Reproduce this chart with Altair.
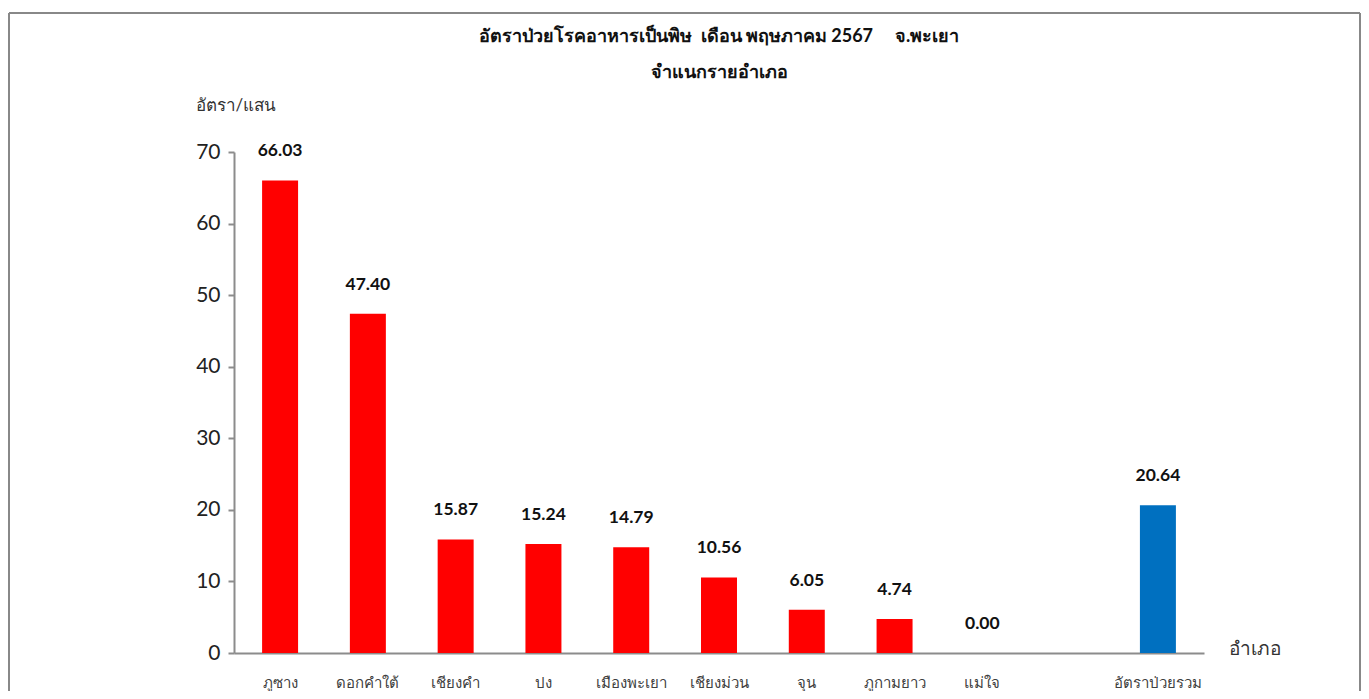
import altair as alt
import pandas as pd

districts = ["ภูซาง", "ดอกคำใต้", "เชียงคำ", "ปง", "เมืองพะเยา", "เชียงม่วน",
             "จุน", "ภูกามยาว", "แม่ใจ", "อัตราป่วยรวม"]
rates = [66.03, 47.40, 15.87, 15.24, 14.79, 10.56, 6.05, 4.74, 0.00, 20.64]
kinds = ["อำเภอ"] * 9 + ["รวม"]
domain_order = districts[:9] + [" "] + districts[9:]
title_lines = ["อัตราป่วยโรคอาหารเป็นพิษ\u00a0\u00a0เดือน พฤษภาคม 2567\u00a0\u00a0\u00a0\u00a0\u00a0จ.พะเยา",
               "จำแนกรายอำเภอ"]

df = pd.DataFrame({"district": districts, "rate": rates, "kind": kinds})
df["label"] = df["rate"].map(lambda v: f"{v:.2f}")

FONT = "Lato, 'Noto Sans', sans-serif"

x_enc = alt.X(
    "district:N",
    sort=domain_order,
    scale=alt.Scale(domain=domain_order, paddingInner=0.59, paddingOuter=0.32),
    axis=alt.Axis(
        title="อำเภอ", titleAngle=0, titleAlign="left", titleBaseline="middle",
        titleX=994, titleY=-5, titleFontSize=19, titleFontWeight="normal",
        titleColor="#333333", labelAngle=0, labelFontSize=15, labelColor="#404040",
        labelPadding=22, ticks=False, domainColor="#8c8c8c", domainWidth=2,
        labelFont=FONT, titleFont=FONT,
    ),
)

y_enc = alt.Y(
    "rate:Q",
    scale=alt.Scale(domain=[0, 70], nice=False),
    axis=alt.Axis(
        title="อัตรา/แสน", titleAngle=0, titleAlign="left", titleBaseline="middle",
        titleX=-39, titleY=-47, titleFontSize=17, titleFontWeight="normal",
        titleColor="#333333", values=[0, 10, 20, 30, 40, 50, 60, 70],
        labelFontSize=21, labelColor="#222222", labelPadding=8, tickSize=6,
        tickColor="#8c8c8c", tickWidth=2, domainColor="#8c8c8c", domainWidth=2,
        grid=False, labelFont=FONT, titleFont=FONT,
    ),
)

bars = alt.Chart(df).mark_bar().encode(
    x=x_enc,
    y=y_enc,
    color=alt.Color("kind:N", scale=alt.Scale(domain=["อำเภอ", "รวม"],
                                              range=["#FF0000", "#0070C0"]), legend=None),
)

labels = alt.Chart(df).mark_text(
    baseline="middle", dy=-29, fontSize=17.5, fontWeight="bold", color="#111111", font=FONT
).encode(x=alt.X("district:N", sort=domain_order), y="rate:Q", text="label:N")

one = alt.Data(values=[{"f": 1}])
title1 = alt.Chart(one).mark_text(
    fontSize=18, fontWeight="bold", color="#111111", font=FONT, align="center", baseline="middle"
).encode(x=alt.value(485), y=alt.value(-115), text=alt.value(title_lines[0]))
title2 = alt.Chart(one).mark_text(
    fontSize=18, fontWeight="bold", color="#111111", font=FONT, align="center", baseline="middle"
).encode(x=alt.value(485), y=alt.value(-79), text=alt.value(title_lines[1]))

frame_top = alt.Chart(one).mark_rule(color="#888888", strokeWidth=2).encode(
    x=alt.value(-225), x2=alt.value(1126), y=alt.value(-139))
frame_left = alt.Chart(one).mark_rule(color="#888888", strokeWidth=2).encode(
    x=alt.value(-225), y=alt.value(-139), y2=alt.value(560))
frame_right = alt.Chart(one).mark_rule(color="#888888", strokeWidth=2).encode(
    x=alt.value(1126), y=alt.value(-139), y2=alt.value(560))

chart = alt.layer(frame_top, frame_left, frame_right, title1, title2, bars, labels).properties(
    width=970,
    height=501,
    background="white",
    autosize=alt.AutoSizeParams(type="none"),
    padding={"left": 226, "top": 144, "right": 157, "bottom": 38},
).configure_view(strokeWidth=0, stroke="transparent")

chart.save("out.html", embed_options={"renderer": "svg", "actions": False})
